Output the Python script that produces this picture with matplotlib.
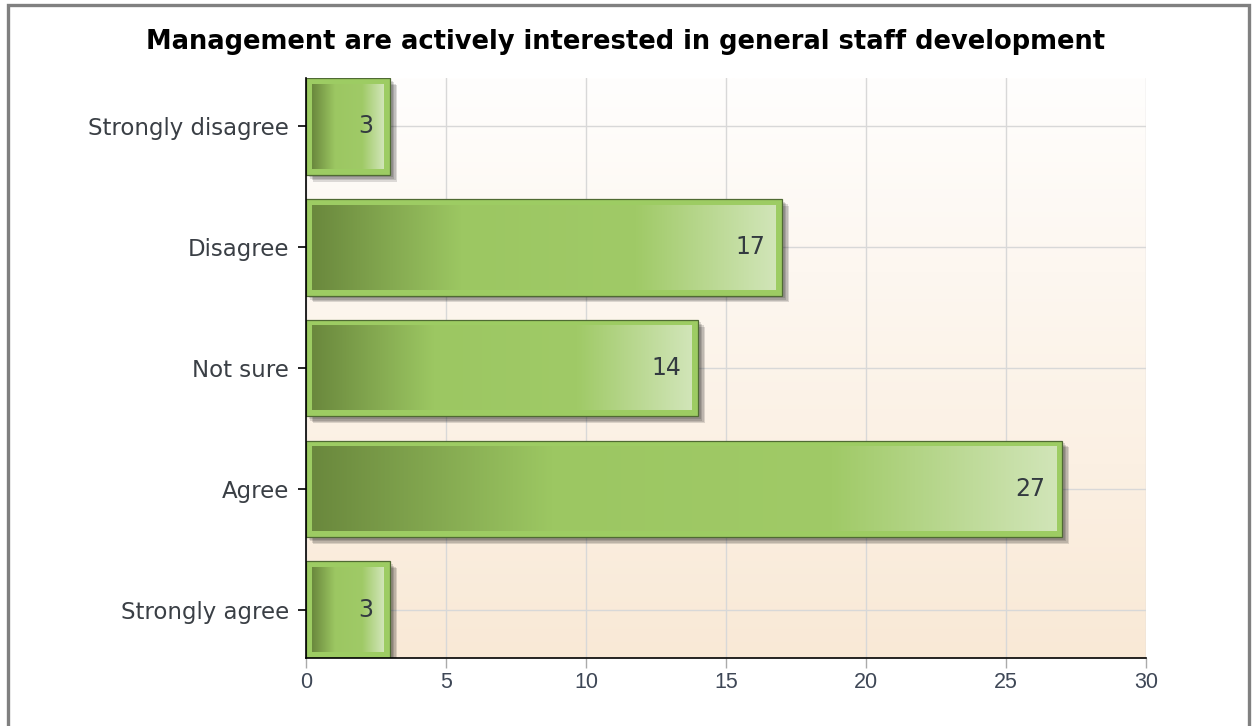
import matplotlib.pyplot as plt
import matplotlib.patheffects as pe
import matplotlib.transforms as mtransforms
from matplotlib.colors import LinearSegmentedColormap
from matplotlib.patches import Rectangle
import numpy as np

categories = ["Strongly disagree", "Disagree", "Not sure", "Agree", "Strongly agree"]
counts = [3, 17, 14, 27, 3]
x_ticks = [0, 5, 10, 15, 20, 25, 30]
title = "Management are actively interested in general staff development"

plt.rcParams['font.family'] = ['DejaVu Sans']

W, H = 1256, 726
fig = plt.figure(figsize=(W / 100, H / 100), dpi=100)
fig.patch.set_facecolor('white')
ax = fig.add_axes([306 / W, 68 / H, 840 / W, 580 / H])

pos = np.arange(len(categories))[::-1]
ylim = (-0.4, len(categories) - 0.6)
ax.set_xlim(0, 30)
ax.set_ylim(*ylim)

# background gradient (white-ish at top -> peach at bottom)
bg = LinearSegmentedColormap.from_list('bg', ['#fffefd', '#f9e9d6'])
ax.imshow(np.linspace(0, 1, 256).reshape(-1, 1), cmap=bg, aspect='auto',
          extent=[0, 30, ylim[0], ylim[1]], origin='upper', zorder=0)

ax.set_axisbelow(True)
ax.grid(True, color='#d8d8d8', lw=1)

# soft shadow = a few stacked light shadows
shadow = [pe.SimplePatchShadow(offset=(o, -o), shadow_rgbFace='k', alpha=0.13) for o in (2, 3, 4, 5)]
bars = ax.barh(pos, counts, height=0.8, color='#9dcc63', edgecolor='#4f6a33',
               linewidth=0.9, zorder=2, path_effects=shadow + [pe.Normal()])

# inner horizontal gradient of every bar
bar_cmap = LinearSegmentedColormap.from_list(
    'bar', [(0, '#6a883d'), (0.32, '#9cc762'), (0.7, '#a0ca67'), (1, '#d1e5b8')])
grad = np.linspace(0, 1, 256).reshape(1, -1)
inset = 6
for b in bars:
    (x0, y0), (x1, y1) = ax.transData.transform([(b.get_x(), b.get_y()),
                                                  (b.get_x() + b.get_width(), b.get_y() + b.get_height())])
    (ix0, iy0), (ix1, iy1) = ax.transData.inverted().transform([(x0 + inset, y0 + inset),
                                                                 (x1 - inset, y1 - inset)])
    ax.imshow(grad, cmap=bar_cmap, aspect='auto', extent=[ix0, ix1, iy0, iy1], zorder=3)

lab_tr = mtransforms.offset_copy(ax.transData, fig=fig, x=-17, y=0, units='dots')
for p, v in zip(pos, counts):
    ax.text(v, p, str(v), transform=lab_tr, ha='right', va='center',
            fontsize=17, color='#333a40', zorder=4)

ax.set_xlim(0, 30)
ax.set_ylim(*ylim)
ax.set_xticks(x_ticks)
ax.set_yticks(pos, categories)
ax.tick_params(axis='y', length=6, width=1.2, color='black', labelsize=16.5,
               labelcolor='#3a3f45', pad=6)
ax.tick_params(axis='x', length=7, width=1, color='#aaaaaa', labelsize=15.5,
               labelcolor='#3e4756', pad=3)
for t in ax.get_xticklabels():
    t.set_family(['Liberation Sans', 'DejaVu Sans'])
for s in ['top', 'right']:
    ax.spines[s].set_visible(False)
for s in ['left', 'bottom']:
    ax.spines[s].set_color('black')
    ax.spines[s].set_linewidth(1.2)

fig.text(626 / W, 1 - 42 / H, title, ha='center', va='center',
         fontsize=18.5, fontweight='bold', color='black')

# outer frame (open at the bottom edge)
fig.patches.append(Rectangle((7.5 / W, -0.05), (1248.5 - 7.5) / W, 1.05 - 5.5 / H,
                             transform=fig.transFigure, fill=False,
                             edgecolor='#808080', lw=2.4))

fig.savefig('out.png', dpi=100)
